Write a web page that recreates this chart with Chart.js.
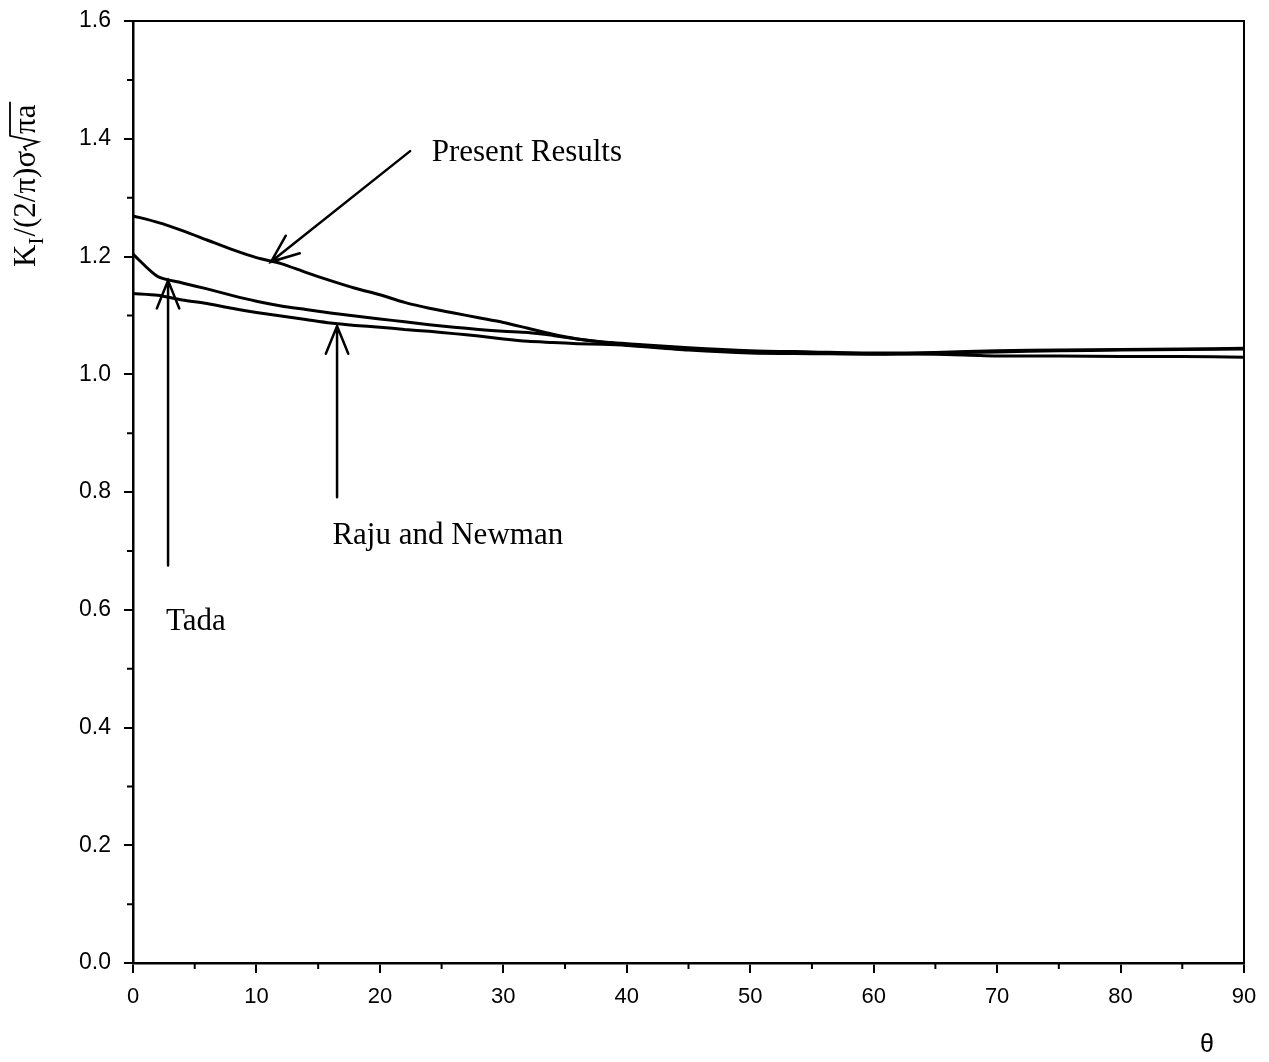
<!DOCTYPE html>
<html>
<head>
<meta charset="utf-8">
<script src="https://cdn.jsdelivr.net/npm/chart.js@4.4.1/dist/chart.umd.min.js"></script>
<style>
  body { margin: 0; background: #fff; }
  #wrap { width: 1269px; height: 1062px; position: relative; }
</style>
</head>
<body>
<div id="wrap"><canvas id="chart"></canvas></div>
<script>
// theta in degrees
const theta = [0, 2, 4, 6, 8, 10, 12, 14, 16, 18, 20, 22, 24, 26, 28, 30, 32, 34, 36, 38, 40, 45, 50, 55, 60, 65, 70, 75, 80, 85, 90];

const presentResults = [1.269, 1.258, 1.244, 1.228, 1.212, 1.198, 1.188, 1.173, 1.159, 1.146, 1.135, 1.122, 1.112, 1.104, 1.096, 1.088, 1.078, 1.068, 1.060, 1.055, 1.052, 1.045, 1.040, 1.038, 1.036, 1.037, 1.040, 1.041, 1.042, 1.043, 1.044];
const tada = [1.204, 1.166, 1.155, 1.145, 1.134, 1.124, 1.116, 1.110, 1.104, 1.099, 1.094, 1.089, 1.084, 1.080, 1.076, 1.073, 1.071, 1.066, 1.060, 1.055, 1.051, 1.043, 1.038, 1.036, 1.035, 1.034, 1.031, 1.031, 1.030, 1.030, 1.029];
const rajuNewman = [1.137, 1.134, 1.126, 1.120, 1.112, 1.105, 1.099, 1.093, 1.087, 1.083, 1.080, 1.076, 1.073, 1.069, 1.065, 1.060, 1.056, 1.054, 1.052, 1.051, 1.049, 1.041, 1.036, 1.035, 1.034, 1.036, 1.038, 1.040, 1.041, 1.042, 1.043];

// annotation arrows (data coords): [tailTheta, tailK, headTheta, headK]
const arrows = [
  [22.45, 1.379, 11.18, 1.191],  // Present Results
  [2.84, 0.675, 2.84, 1.159],    // Tada
  [16.53, 0.791, 16.53, 1.082]   // Raju and Newman
];
const notes = [
  { text: 'Present Results', x: 24.2, y: 1.376, align: 'left' },
  { text: 'Raju and Newman', x: 25.5, y: 0.726, align: 'center' },
  { text: 'Tada', x: 5.1, y: 0.579, align: 'center' }
];

function pts(ys) {
  return theta.map((t, i) => ({ x: t, y: ys[i] }));
}

const SERIF = '"Liberation Serif", "Times New Roman", serif';
const SANS = '"Liberation Sans", Arial, sans-serif';

const isMajorX = v => Math.round(v) % 10 === 0;
const isMajorY = v => Math.round(v * 10) % 2 === 0;

const extras = {
  id: 'extras',
  afterDraw(chart) {
    const ctx = chart.ctx;
    const a = chart.chartArea;
    const xs = chart.scales.x, ys = chart.scales.y;
    ctx.save();
    ctx.strokeStyle = '#000';
    ctx.fillStyle = '#000';

    // top and right frame
    ctx.lineWidth = 2;
    ctx.beginPath();
    ctx.moveTo(a.left, a.top);
    ctx.lineTo(a.right, a.top);
    ctx.lineTo(a.right, a.bottom);
    ctx.stroke();

    // minor ticks (shorter)
    ctx.beginPath();
    xs.ticks.forEach(t => {
      if (!isMajorX(t.value)) {
        const px = xs.getPixelForValue(t.value);
        ctx.moveTo(px, a.bottom);
        ctx.lineTo(px, a.bottom + 6);
      }
    });
    ys.ticks.forEach(t => {
      if (!isMajorY(t.value)) {
        const py = ys.getPixelForValue(t.value);
        ctx.moveTo(a.left, py);
        ctx.lineTo(a.left - 6, py);
      }
    });
    // small cross at origin
    ctx.moveTo(a.left, a.bottom);
    ctx.lineTo(a.left, a.bottom - 4);
    ctx.stroke();

    // arrows
    ctx.lineWidth = 2.5;
    ctx.lineCap = 'round';
    arrows.forEach(ar => {
      const x1 = xs.getPixelForValue(ar[0]), y1 = ys.getPixelForValue(ar[1]);
      const x2 = xs.getPixelForValue(ar[2]), y2 = ys.getPixelForValue(ar[3]);
      const ang = Math.atan2(y1 - y2, x1 - x2);
      const len = 30, spread = 22 * Math.PI / 180;
      ctx.beginPath();
      ctx.moveTo(x1, y1);
      ctx.lineTo(x2, y2);
      ctx.moveTo(x2 + len * Math.cos(ang - spread), y2 + len * Math.sin(ang - spread));
      ctx.lineTo(x2, y2);
      ctx.lineTo(x2 + len * Math.cos(ang + spread), y2 + len * Math.sin(ang + spread));
      ctx.stroke();
    });

    // notes
    ctx.font = '31px ' + SERIF;
    ctx.textBaseline = 'middle';
    notes.forEach(n => {
      ctx.textAlign = n.align;
      ctx.fillText(n.text, xs.getPixelForValue(n.x), ys.getPixelForValue(n.y));
    });

    // y axis title: K_I/(2/pi) sigma sqrt(pi a)
    ctx.save();
    ctx.translate(35, 267);
    ctx.rotate(-Math.PI / 2);
    ctx.textAlign = 'left';
    ctx.textBaseline = 'alphabetic';
    let x = 0;
    ctx.font = '31px ' + SERIF;
    ctx.fillText('K', x, 0);
    x += ctx.measureText('K').width;
    ctx.font = '21px ' + SERIF;
    ctx.fillText('I', x, 8);
    x += ctx.measureText('I').width + 1;
    ctx.font = '31px ' + SERIF;
    const mid = '/(2/π)σ';
    ctx.fillText(mid, x, 0);
    x += ctx.measureText(mid).width + 1;
    const rad = 'πa';
    const rw = ctx.measureText(rad).width;
    ctx.lineWidth = 1.8;
    ctx.beginPath();
    ctx.moveTo(x, -9);
    ctx.lineTo(x + 3, -11);
    ctx.lineTo(x + 8, 3);
    ctx.lineTo(x + 14, -25);
    ctx.lineTo(x + 16 + rw + 2, -25);
    ctx.stroke();
    ctx.fillText(rad, x + 16, 0);
    ctx.restore();

    // x axis title
    ctx.font = '25px ' + SANS;
    ctx.textAlign = 'center';
    ctx.textBaseline = 'middle';
    ctx.fillText('θ', a.right - 37, a.bottom + 82);

    ctx.restore();
  }
};

const lineStyle = {
  borderColor: '#000',
  borderWidth: 3,
  pointRadius: 0,
  fill: false,
  tension: 0.25
};

new Chart(document.getElementById('chart').getContext('2d'), {
  type: 'line',
  data: {
    datasets: [
      Object.assign({ label: 'Present Results', data: pts(presentResults) }, lineStyle),
      Object.assign({ label: 'Tada', data: pts(tada) }, lineStyle),
      Object.assign({ label: 'Raju and Newman', data: pts(rajuNewman) }, lineStyle)
    ]
  },
  options: {
    responsive: true,
    maintainAspectRatio: false,
    animation: false,
    layout: { padding: { top: 21, right: 25, left: 0, bottom: 0 } },
    plugins: {
      legend: { display: false },
      tooltip: { enabled: false }
    },
    scales: {
      x: {
        type: 'linear',
        min: 0,
        max: 90,
        afterFit: s => { s.height = 99; s.paddingLeft = 0; s.paddingRight = 0; },
        ticks: {
          stepSize: 5,
          autoSkip: false,
          maxRotation: 0,
          padding: 11,
          color: '#000',
          font: { family: SANS, size: 22 },
          callback: v => (isMajorX(v) ? String(Math.round(v)) : '')
        },
        grid: {
          drawOnChartArea: false, tickLength: 10, lineWidth: 2,
          tickColor: c => (c.tick && isMajorX(c.tick.value) ? '#000' : 'rgba(0,0,0,0)')
        },
        border: { color: '#000', width: 2.5 }
      },
      y: {
        min: 0,
        max: 1.6,
        afterFit: s => { s.width = 133; s.paddingTop = 0; s.paddingBottom = 0; },
        ticks: {
          stepSize: 0.1,
          autoSkip: false,
          padding: 13,
          color: '#000',
          font: { family: SANS, size: 23 },
          callback: v => (isMajorY(v) ? (Math.round(v * 10) / 10).toFixed(1) : '')
        },
        grid: {
          drawOnChartArea: false, tickLength: 9, lineWidth: 2,
          tickColor: c => (c.tick && isMajorY(c.tick.value) ? '#000' : 'rgba(0,0,0,0)')
        },
        border: { color: '#000', width: 2.5 }
      }
    }
  },
  plugins: [extras]
});
</script>
</body>
</html>
